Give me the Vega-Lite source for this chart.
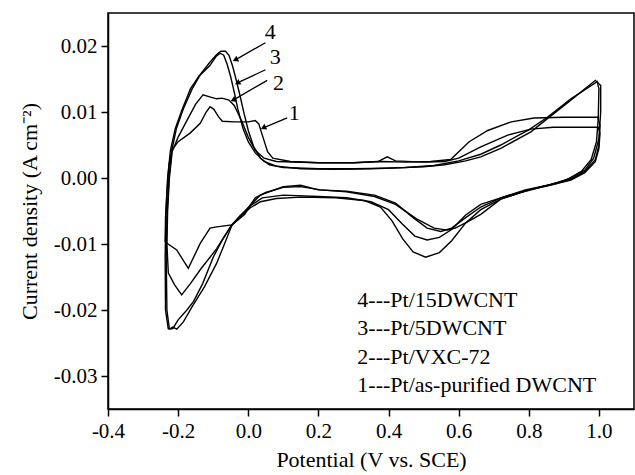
{
  "$schema": "https://vega.github.io/schema/vega-lite/v6.json",
  "width": 526,
  "height": 396,
  "autosize": {"type": "none"},
  "padding": {"left": 108, "top": 13, "right": 1, "bottom": 66},
  "background": "white",
  "config": {
    "view": {"stroke": "black", "strokeWidth": 1.5},
    "font": "Liberation Serif",
    "axis": {
      "domainColor": "black", "domainWidth": 1.5, "tickColor": "black", "tickWidth": 1.5,
      "labelColor": "black", "titleColor": "black", "labelFont": "Liberation Serif", "titleFont": "Liberation Serif",
      "labelFontSize": 21, "titleFontSize": 22, "titleFontWeight": "normal", "grid": false
    }
  },
  "datasets": {
    "curves": [
      {"s": 4, "x": -0.225, "y": -0.0229}, {"s": 4, "x": -0.232, "y": -0.0200}, {"s": 4, "x": -0.234, "y": -0.0120}, {"s": 4, "x": -0.232, "y": -0.0060}, {"s": 4, "x": -0.226, "y": 0.0000}, {"s": 4, "x": -0.218, "y": 0.0042}, {"s": 4, "x": -0.205, "y": 0.0075}, {"s": 4, "x": -0.185, "y": 0.0105}, {"s": 4, "x": -0.160, "y": 0.0135}, {"s": 4, "x": -0.135, "y": 0.0158}, {"s": 4, "x": -0.110, "y": 0.0175}, {"s": 4, "x": -0.090, "y": 0.0187}, {"s": 4, "x": -0.078, "y": 0.0192}, {"s": 4, "x": -0.065, "y": 0.0192}, {"s": 4, "x": -0.055, "y": 0.0186}, {"s": 4, "x": -0.045, "y": 0.0170}, {"s": 4, "x": -0.035, "y": 0.0150}, {"s": 4, "x": -0.025, "y": 0.0128}, {"s": 4, "x": -0.012, "y": 0.0098}, {"s": 4, "x": 0.000, "y": 0.0072}, {"s": 4, "x": 0.015, "y": 0.0048}, {"s": 4, "x": 0.035, "y": 0.0030}, {"s": 4, "x": 0.060, "y": 0.0020}, {"s": 4, "x": 0.100, "y": 0.0016}, {"s": 4, "x": 0.200, "y": 0.0014}, {"s": 4, "x": 0.300, "y": 0.0014}, {"s": 4, "x": 0.400, "y": 0.0015}, {"s": 4, "x": 0.500, "y": 0.0017}, {"s": 4, "x": 0.560, "y": 0.0020}, {"s": 4, "x": 0.620, "y": 0.0026}, {"s": 4, "x": 0.663, "y": 0.0032}, {"s": 4, "x": 0.720, "y": 0.0045}, {"s": 4, "x": 0.806, "y": 0.0070}, {"s": 4, "x": 0.853, "y": 0.0090}, {"s": 4, "x": 0.920, "y": 0.0118}, {"s": 4, "x": 0.990, "y": 0.0148},
      {"s": 4, "x": 1.005, "y": 0.0140}, {"s": 4, "x": 1.005, "y": 0.0100}, {"s": 4, "x": 1.000, "y": 0.0060}, {"s": 4, "x": 0.985, "y": 0.0030}, {"s": 4, "x": 0.960, "y": 0.0012}, {"s": 4, "x": 0.920, "y": 0.0000}, {"s": 4, "x": 0.880, "y": -0.0008}, {"s": 4, "x": 0.834, "y": -0.0014}, {"s": 4, "x": 0.777, "y": -0.0022}, {"s": 4, "x": 0.720, "y": -0.0032}, {"s": 4, "x": 0.663, "y": -0.0048}, {"s": 4, "x": 0.620, "y": -0.0068}, {"s": 4, "x": 0.580, "y": -0.0095}, {"s": 4, "x": 0.545, "y": -0.0113}, {"s": 4, "x": 0.506, "y": -0.0120}, {"s": 4, "x": 0.470, "y": -0.0112}, {"s": 4, "x": 0.440, "y": -0.0092}, {"s": 4, "x": 0.410, "y": -0.0065}, {"s": 4, "x": 0.377, "y": -0.0044}, {"s": 4, "x": 0.330, "y": -0.0034}, {"s": 4, "x": 0.250, "y": -0.0030}, {"s": 4, "x": 0.150, "y": -0.0029}, {"s": 4, "x": 0.080, "y": -0.0031}, {"s": 4, "x": 0.035, "y": -0.0036}, {"s": 4, "x": 0.006, "y": -0.0045}, {"s": 4, "x": -0.025, "y": -0.0060}, {"s": 4, "x": -0.047, "y": -0.0072}, {"s": 4, "x": -0.071, "y": -0.0104}, {"s": 4, "x": -0.090, "y": -0.0129}, {"s": 4, "x": -0.125, "y": -0.0165}, {"s": 4, "x": -0.160, "y": -0.0195}, {"s": 4, "x": -0.185, "y": -0.0218}, {"s": 4, "x": -0.204, "y": -0.0229}, {"s": 4, "x": -0.215, "y": -0.0226}, {"s": 4, "x": -0.225, "y": -0.0229},

      {"s": 3, "x": -0.228, "y": -0.0229}, {"s": 3, "x": -0.236, "y": -0.0200}, {"s": 3, "x": -0.237, "y": -0.0120}, {"s": 3, "x": -0.235, "y": -0.0060}, {"s": 3, "x": -0.230, "y": 0.0000}, {"s": 3, "x": -0.222, "y": 0.0042}, {"s": 3, "x": -0.208, "y": 0.0075}, {"s": 3, "x": -0.190, "y": 0.0102}, {"s": 3, "x": -0.165, "y": 0.0135}, {"s": 3, "x": -0.140, "y": 0.0155}, {"s": 3, "x": -0.125, "y": 0.0162}, {"s": 3, "x": -0.110, "y": 0.0170}, {"s": 3, "x": -0.092, "y": 0.0184}, {"s": 3, "x": -0.080, "y": 0.0189}, {"s": 3, "x": -0.070, "y": 0.0186}, {"s": 3, "x": -0.060, "y": 0.0172}, {"s": 3, "x": -0.050, "y": 0.0153}, {"s": 3, "x": -0.040, "y": 0.0130}, {"s": 3, "x": -0.030, "y": 0.0105}, {"s": 3, "x": -0.015, "y": 0.0075}, {"s": 3, "x": 0.000, "y": 0.0055}, {"s": 3, "x": 0.020, "y": 0.0038}, {"s": 3, "x": 0.045, "y": 0.0025}, {"s": 3, "x": 0.080, "y": 0.0018}, {"s": 3, "x": 0.150, "y": 0.0014}, {"s": 3, "x": 0.250, "y": 0.0013}, {"s": 3, "x": 0.350, "y": 0.0014}, {"s": 3, "x": 0.450, "y": 0.0016}, {"s": 3, "x": 0.530, "y": 0.0019}, {"s": 3, "x": 0.600, "y": 0.0026}, {"s": 3, "x": 0.663, "y": 0.0036}, {"s": 3, "x": 0.720, "y": 0.0050}, {"s": 3, "x": 0.800, "y": 0.0073}, {"s": 3, "x": 0.853, "y": 0.0092}, {"s": 3, "x": 0.920, "y": 0.0120}, {"s": 3, "x": 0.995, "y": 0.0146},
      {"s": 3, "x": 1.000, "y": 0.0135}, {"s": 3, "x": 0.998, "y": 0.0090}, {"s": 3, "x": 0.993, "y": 0.0055}, {"s": 3, "x": 0.978, "y": 0.0028}, {"s": 3, "x": 0.950, "y": 0.0010}, {"s": 3, "x": 0.910, "y": -0.0002}, {"s": 3, "x": 0.860, "y": -0.0010}, {"s": 3, "x": 0.800, "y": -0.0018}, {"s": 3, "x": 0.720, "y": -0.0030}, {"s": 3, "x": 0.663, "y": -0.0040}, {"s": 3, "x": 0.620, "y": -0.0056}, {"s": 3, "x": 0.580, "y": -0.0078}, {"s": 3, "x": 0.545, "y": -0.0090}, {"s": 3, "x": 0.510, "y": -0.0094}, {"s": 3, "x": 0.475, "y": -0.0088}, {"s": 3, "x": 0.440, "y": -0.0070}, {"s": 3, "x": 0.400, "y": -0.0048}, {"s": 3, "x": 0.350, "y": -0.0036}, {"s": 3, "x": 0.280, "y": -0.0030}, {"s": 3, "x": 0.200, "y": -0.0028}, {"s": 3, "x": 0.100, "y": -0.0026}, {"s": 3, "x": 0.040, "y": -0.0030}, {"s": 3, "x": 0.006, "y": -0.0042}, {"s": 3, "x": -0.025, "y": -0.0058}, {"s": 3, "x": -0.047, "y": -0.0071}, {"s": 3, "x": -0.075, "y": -0.0095}, {"s": 3, "x": -0.100, "y": -0.0120}, {"s": 3, "x": -0.130, "y": -0.0160}, {"s": 3, "x": -0.156, "y": -0.0187}, {"s": 3, "x": -0.175, "y": -0.0200}, {"s": 3, "x": -0.200, "y": -0.0215}, {"s": 3, "x": -0.215, "y": -0.0228}, {"s": 3, "x": -0.228, "y": -0.0229},

      {"s": 2, "x": -0.228, "y": -0.0144}, {"s": 2, "x": -0.232, "y": -0.0100}, {"s": 2, "x": -0.230, "y": -0.0050}, {"s": 2, "x": -0.225, "y": 0.0000}, {"s": 2, "x": -0.217, "y": 0.0040}, {"s": 2, "x": -0.200, "y": 0.0062}, {"s": 2, "x": -0.174, "y": 0.0088}, {"s": 2, "x": -0.150, "y": 0.0112}, {"s": 2, "x": -0.129, "y": 0.0126}, {"s": 2, "x": -0.110, "y": 0.0123}, {"s": 2, "x": -0.090, "y": 0.0120}, {"s": 2, "x": -0.075, "y": 0.0121}, {"s": 2, "x": -0.055, "y": 0.0118}, {"s": 2, "x": -0.040, "y": 0.0110}, {"s": 2, "x": -0.020, "y": 0.0088}, {"s": 2, "x": 0.000, "y": 0.0062}, {"s": 2, "x": 0.020, "y": 0.0042}, {"s": 2, "x": 0.045, "y": 0.0030}, {"s": 2, "x": 0.080, "y": 0.0025}, {"s": 2, "x": 0.200, "y": 0.0023}, {"s": 2, "x": 0.300, "y": 0.0023}, {"s": 2, "x": 0.380, "y": 0.0025}, {"s": 2, "x": 0.450, "y": 0.0024}, {"s": 2, "x": 0.520, "y": 0.0025}, {"s": 2, "x": 0.577, "y": 0.0028}, {"s": 2, "x": 0.630, "y": 0.0055}, {"s": 2, "x": 0.683, "y": 0.0072}, {"s": 2, "x": 0.750, "y": 0.0085}, {"s": 2, "x": 0.815, "y": 0.0091}, {"s": 2, "x": 0.900, "y": 0.0092}, {"s": 2, "x": 0.997, "y": 0.0092},
      {"s": 2, "x": 1.003, "y": 0.0080}, {"s": 2, "x": 1.000, "y": 0.0050}, {"s": 2, "x": 0.990, "y": 0.0028}, {"s": 2, "x": 0.960, "y": 0.0010}, {"s": 2, "x": 0.920, "y": -0.0002}, {"s": 2, "x": 0.860, "y": -0.0010}, {"s": 2, "x": 0.790, "y": -0.0018}, {"s": 2, "x": 0.720, "y": -0.0030}, {"s": 2, "x": 0.663, "y": -0.0044}, {"s": 2, "x": 0.620, "y": -0.0060}, {"s": 2, "x": 0.580, "y": -0.0076}, {"s": 2, "x": 0.549, "y": -0.0081}, {"s": 2, "x": 0.510, "y": -0.0076}, {"s": 2, "x": 0.470, "y": -0.0060}, {"s": 2, "x": 0.420, "y": -0.0038}, {"s": 2, "x": 0.360, "y": -0.0026}, {"s": 2, "x": 0.280, "y": -0.0020}, {"s": 2, "x": 0.200, "y": -0.0018}, {"s": 2, "x": 0.149, "y": -0.0011}, {"s": 2, "x": 0.100, "y": -0.0013}, {"s": 2, "x": 0.034, "y": -0.0026}, {"s": 2, "x": 0.006, "y": -0.0041}, {"s": 2, "x": -0.025, "y": -0.0060}, {"s": 2, "x": -0.047, "y": -0.0071}, {"s": 2, "x": -0.070, "y": -0.0090}, {"s": 2, "x": -0.090, "y": -0.0107}, {"s": 2, "x": -0.137, "y": -0.0139}, {"s": 2, "x": -0.165, "y": -0.0160}, {"s": 2, "x": -0.190, "y": -0.0177}, {"s": 2, "x": -0.210, "y": -0.0162}, {"s": 2, "x": -0.228, "y": -0.0144},

      {"s": 1, "x": -0.237, "y": -0.0097}, {"s": 1, "x": -0.236, "y": -0.0060}, {"s": 1, "x": -0.232, "y": -0.0020}, {"s": 1, "x": -0.226, "y": 0.0020}, {"s": 1, "x": -0.218, "y": 0.0042}, {"s": 1, "x": -0.200, "y": 0.0055}, {"s": 1, "x": -0.166, "y": 0.0068}, {"s": 1, "x": -0.137, "y": 0.0083}, {"s": 1, "x": -0.120, "y": 0.0100}, {"s": 1, "x": -0.109, "y": 0.0108}, {"s": 1, "x": -0.098, "y": 0.0104}, {"s": 1, "x": -0.085, "y": 0.0093}, {"s": 1, "x": -0.074, "y": 0.0086}, {"s": 1, "x": -0.040, "y": 0.0085}, {"s": 1, "x": 0.000, "y": 0.0085}, {"s": 1, "x": 0.020, "y": 0.0087}, {"s": 1, "x": 0.030, "y": 0.0082}, {"s": 1, "x": 0.043, "y": 0.0060}, {"s": 1, "x": 0.055, "y": 0.0040}, {"s": 1, "x": 0.070, "y": 0.0030}, {"s": 1, "x": 0.120, "y": 0.0025}, {"s": 1, "x": 0.200, "y": 0.0023}, {"s": 1, "x": 0.300, "y": 0.0023}, {"s": 1, "x": 0.370, "y": 0.0025}, {"s": 1, "x": 0.396, "y": 0.0032}, {"s": 1, "x": 0.420, "y": 0.0026}, {"s": 1, "x": 0.500, "y": 0.0024}, {"s": 1, "x": 0.560, "y": 0.0025}, {"s": 1, "x": 0.600, "y": 0.0030}, {"s": 1, "x": 0.663, "y": 0.0047}, {"s": 1, "x": 0.740, "y": 0.0065}, {"s": 1, "x": 0.806, "y": 0.0074}, {"s": 1, "x": 0.870, "y": 0.0077}, {"s": 1, "x": 0.998, "y": 0.0077},
      {"s": 1, "x": 1.003, "y": 0.0068}, {"s": 1, "x": 1.000, "y": 0.0045}, {"s": 1, "x": 0.990, "y": 0.0025}, {"s": 1, "x": 0.960, "y": 0.0008}, {"s": 1, "x": 0.920, "y": -0.0003}, {"s": 1, "x": 0.860, "y": -0.0011}, {"s": 1, "x": 0.800, "y": -0.0018}, {"s": 1, "x": 0.720, "y": -0.0032}, {"s": 1, "x": 0.663, "y": -0.0055}, {"s": 1, "x": 0.620, "y": -0.0068}, {"s": 1, "x": 0.590, "y": -0.0076}, {"s": 1, "x": 0.568, "y": -0.0079}, {"s": 1, "x": 0.530, "y": -0.0076}, {"s": 1, "x": 0.480, "y": -0.0062}, {"s": 1, "x": 0.420, "y": -0.0040}, {"s": 1, "x": 0.360, "y": -0.0028}, {"s": 1, "x": 0.280, "y": -0.0021}, {"s": 1, "x": 0.206, "y": -0.0018}, {"s": 1, "x": 0.149, "y": -0.0013}, {"s": 1, "x": 0.100, "y": -0.0014}, {"s": 1, "x": 0.050, "y": -0.0022}, {"s": 1, "x": 0.020, "y": -0.0030}, {"s": 1, "x": 0.006, "y": -0.0041}, {"s": 1, "x": -0.010, "y": -0.0055}, {"s": 1, "x": -0.030, "y": -0.0064}, {"s": 1, "x": -0.047, "y": -0.0071}, {"s": 1, "x": -0.090, "y": -0.0074}, {"s": 1, "x": -0.109, "y": -0.0076}, {"s": 1, "x": -0.137, "y": -0.0099}, {"s": 1, "x": -0.171, "y": -0.0137}, {"s": 1, "x": -0.204, "y": -0.0109}, {"s": 1, "x": -0.237, "y": -0.0097}
    ],
    "arrows": [
      {"n": "4", "x": 0.049, "y": 0.0205, "x2": -0.037, "y2": 0.0179},
      {"n": "3", "x": 0.049, "y": 0.0164, "x2": -0.031, "y2": 0.0144},
      {"n": "2", "x": 0.054, "y": 0.0148, "x2": -0.043, "y2": 0.0118},
      {"n": "1", "x": 0.111, "y": 0.0091, "x2": 0.043, "y2": 0.0076}
    ],
    "numbers": [
      {"t": "4", "x": 0.063, "y": 0.0221},
      {"t": "3", "x": 0.077, "y": 0.0183},
      {"t": "2", "x": 0.086, "y": 0.0144},
      {"t": "1", "x": 0.131, "y": 0.0098}
    ],
    "legend": [
      {"t": "4---Pt/15DWCNT", "x": 0.311, "y": -0.0185},
      {"t": "3---Pt/5DWCNT", "x": 0.311, "y": -0.0227},
      {"t": "2---Pt/VXC-72", "x": 0.311, "y": -0.0271},
      {"t": "1---Pt/as-purified DWCNT", "x": 0.311, "y": -0.0314}
    ]
  },
  "layer": [
    {
      "data": {"name": "curves"},
      "mark": {"type": "line", "color": "black", "strokeWidth": 1.4, "clip": true},
      "encoding": {
        "x": {"field": "x", "type": "quantitative", "scale": {"domain": [-0.4, 1.1], "nice": false, "zero": false},
          "axis": {"values": [-0.4, -0.3, -0.2, -0.1, 0.0, 0.1, 0.2, 0.3, 0.4, 0.5, 0.6, 0.7, 0.8, 0.9, 1.0],
            "labelExpr": "abs(round(datum.value*10)) % 2 == 0 ? replace(format(datum.value, '.1f'), '\u2212', '-') : ''",
            "tickSize": {"condition": {"test": "abs(round(datum.value*10)) % 2 == 0", "value": 7}, "value": 4},
            "labelPadding": 4, "labelFlush": false, "labelOverlap": false, "title": "Potential (V vs. SCE)", "titlePadding": 8}},
        "y": {"field": "y", "type": "quantitative", "scale": {"domain": [-0.035, 0.025], "nice": false, "zero": false},
          "axis": {"values": [-0.03, -0.025, -0.02, -0.015, -0.01, -0.005, 0.0, 0.005, 0.01, 0.015, 0.02],
            "labelExpr": "round(datum.value*1000) % 10 == 0 ? replace(format(datum.value, '.2f'), '\u2212', '-') : ''",
            "tickSize": {"condition": {"test": "round(datum.value*1000) % 10 == 0", "value": 7}, "value": 4},
            "labelPadding": 4, "labelFlush": false, "labelOverlap": false, "title": "Current density (A cm\u207b\u00b2)", "titlePadding": 12}},
        "detail": {"field": "s"},
        "order": {"value": null}
      }
    },
    {
      "data": {"name": "arrows"},
      "mark": {"type": "rule", "color": "black", "strokeWidth": 1.3},
      "encoding": {
        "x": {"field": "x", "type": "quantitative"},
        "y": {"field": "y", "type": "quantitative"},
        "x2": {"field": "x2"},
        "y2": {"field": "y2"}
      }
    },
    {
      "data": {"name": "arrows"},
      "mark": {"type": "point", "shape": "triangle-left", "filled": true, "color": "black", "size": 40, "angle": 333, "opacity": 1},
      "encoding": {
        "x": {"field": "x2", "type": "quantitative"},
        "y": {"field": "y2", "type": "quantitative"}
      }
    },
    {
      "data": {"name": "numbers"},
      "mark": {"type": "text", "font": "Liberation Serif", "fontSize": 22, "color": "black", "align": "center", "baseline": "middle"},
      "encoding": {
        "x": {"field": "x", "type": "quantitative"},
        "y": {"field": "y", "type": "quantitative"},
        "text": {"field": "t"}
      }
    },
    {
      "data": {"name": "legend"},
      "mark": {"type": "text", "font": "Liberation Serif", "fontSize": 22, "color": "black", "align": "left", "baseline": "middle"},
      "encoding": {
        "x": {"field": "x", "type": "quantitative"},
        "y": {"field": "y", "type": "quantitative"},
        "text": {"field": "t"}
      }
    }
  ]
}
